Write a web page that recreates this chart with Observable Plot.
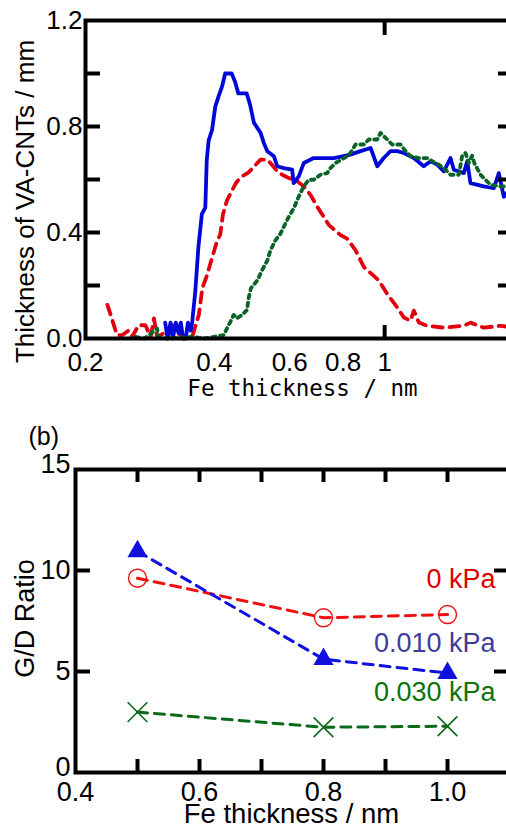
<!DOCTYPE html>
<html><head><meta charset="utf-8">
<script src="https://cdn.jsdelivr.net/npm/d3@7"></script>
<script src="https://cdn.jsdelivr.net/npm/@observablehq/plot@0.6"></script>
<style>
body{margin:0;background:#fff;}
#wrap{position:relative;width:506px;height:824px;overflow:hidden;background:#fff;}
#top,#bot{position:absolute;left:0;width:520px;}
#top{top:0}
#bot{top:400px}
</style></head><body><div id="wrap"><div id="top"></div><div id="bot"></div></div>
<script>
// ---------- Panel (a) data ----------
const blueX = [0.307,0.311,0.316,0.320,0.325,0.330,0.334,0.338,0.343,0.347,0.352,0.355,0.361,0.367,0.374,0.381,0.384,0.388,0.395,0.402,0.409,0.417,0.424,0.439,0.447,0.455,0.476,0.485,0.495,0.513,0.522,0.532,0.551,0.561,0.581,0.608,0.613,0.630,0.647,0.683,0.761,0.832,0.878,0.927,0.961,0.995,1.032,1.070,1.109,1.170,1.234,1.280,1.327,1.375,1.425,1.451,1.531,1.559,1.587,1.705,1.799,1.848,1.898,1.93];
const blueY = [0.06,0.0,0.06,0.0,0.06,0.02,0.06,0.0,0.0,0.06,0.03,0.06,0.177,0.342,0.469,0.494,0.672,0.748,0.786,0.875,0.913,0.951,1.0,1.0,0.97,0.925,0.925,0.881,0.814,0.776,0.738,0.707,0.688,0.65,0.643,0.637,0.586,0.612,0.662,0.681,0.681,0.694,0.707,0.719,0.65,0.681,0.707,0.707,0.700,0.681,0.65,0.669,0.656,0.631,0.681,0.637,0.624,0.669,0.586,0.574,0.567,0.624,0.535,0.55];
const redX = [0.225,0.229,0.233,0.237,0.244,0.252,0.257,0.266,0.276,0.284,0.289,0.294,0.305,0.319,0.337,0.355,0.368,0.375,0.385,0.395,0.406,0.413,0.419,0.428,0.440,0.448,0.460,0.481,0.513,0.532,0.541,0.561,0.576,0.597,0.619,0.647,0.671,0.696,0.741,0.789,0.817,0.855,0.894,0.969,1.014,1.070,1.109,1.149,1.170,1.202,1.257,1.375,1.531,1.587,1.705,1.865,1.93];
const redY = [0.127,0.089,0.05,0.013,0.013,0.03,0.006,0.05,0.05,0.006,0.076,0.006,0.02,0.05,0.0,0.006,0.089,0.19,0.241,0.304,0.368,0.393,0.469,0.52,0.558,0.583,0.608,0.627,0.675,0.675,0.662,0.631,0.618,0.605,0.599,0.574,0.542,0.497,0.428,0.39,0.377,0.333,0.27,0.219,0.168,0.117,0.079,0.067,0.105,0.06,0.048,0.041,0.048,0.06,0.041,0.048,0.045];
const greenX = [0.262,0.275,0.294,0.296,0.31,0.358,0.38,0.421,0.428,0.436,0.444,0.452,0.464,0.477,0.481,0.487,0.504,0.517,0.532,0.541,0.556,0.571,0.581,0.597,0.613,0.630,0.647,0.665,0.683,0.708,0.734,0.747,0.768,0.796,0.817,0.832,0.855,0.894,0.918,0.961,0.978,1.014,1.041,1.089,1.119,1.149,1.202,1.257,1.291,1.339,1.387,1.425,1.490,1.517,1.545,1.572,1.601,1.62,1.675,1.720,1.767,1.865,1.93];
const greenY = [0.006,0.0,0.038,0.006,0.0,0.006,0.0,0.013,0.038,0.063,0.089,0.076,0.089,0.108,0.152,0.19,0.219,0.257,0.295,0.333,0.371,0.396,0.421,0.459,0.491,0.536,0.574,0.599,0.599,0.618,0.624,0.643,0.662,0.677,0.688,0.70,0.732,0.732,0.751,0.751,0.776,0.751,0.732,0.732,0.707,0.688,0.681,0.681,0.669,0.656,0.637,0.618,0.618,0.688,0.70,0.662,0.69,0.662,0.618,0.599,0.58,0.574,0.574];
const topYTickLabels = [0, 0.4, 0.8, 1.2];
const topYTicks = [0.2, 0.4, 0.6, 0.8, 1.0];
const topXTickLabels = [0.2, 0.4, 0.6, 0.8, 1];
const topXTicks = [1];

// ---------- Panel (b) data ----------
const feThickness = [0.5, 0.8, 1.0];
const gd0 = [9.62, 7.66, 7.82];
const gd010 = [10.95, 5.61, 4.92];
const gd030 = [2.99, 2.24, 2.29];
const seriesNames = ["0 kPa", "0.010 kPa", "0.030 kPa"];
const botXTickLabels = [0.4, 0.6, 0.8, 1.0];
const botXTicks = [0.5, 0.6, 0.7, 0.8, 0.9, 1.0];
const botYTickLabelsMid = [5, 10];
const botYTickLabelsEnd = [0, 15];
const botYTicks = [5, 10];

const SANS = "'Liberation Sans', Arial, Helvetica, sans-serif";
const toPts = (xs, ys) => xs.map((x, i) => ({x, y: ys[i]}));

// ---------- Panel (a) ----------
{
  const W = 520, H = 400, mL = 85, mR = 7, mT = 20, mB = 62;
  const fw = W - mL - mR, fh = H - mT - mB;
  const chart = Plot.plot({
    width: W, height: H,
    marginLeft: mL, marginRight: mR, marginTop: mT, marginBottom: mB,
    style: {fontFamily: SANS, fontSize: "26px", background: "white", maxWidth: "none", overflow: "visible"},
    x: {type: "log", domain: [0.2, 2.0], axis: null},
    y: {domain: [0, 1.2], axis: null},
    marks: [
      Plot.line(toPts(redX, redY), {x: "x", y: "y", stroke: "#e00010", strokeWidth: 3.8, strokeDasharray: "10,7"}),
      Plot.line(toPts(blueX, blueY), {x: "x", y: "y", stroke: "#0008d8", strokeWidth: 3.8}),
      Plot.line(toPts(greenX, greenY), {x: "x", y: "y", stroke: "#0a6428", strokeWidth: 3.8, strokeDasharray: "3.5,4.5"}),
      Plot.frame({strokeWidth: 4}),
      Plot.tickY(topYTicks, {y: d => d, insetRight: fw - 15, strokeWidth: 4}),
      Plot.tickY(topYTicks, {y: d => d, insetLeft: fw - 15, strokeWidth: 4}),
      Plot.tickX(topXTicks, {x: d => d, insetBottom: fh - 15, strokeWidth: 4}),
      Plot.tickX(topXTicks, {x: d => d, insetTop: fh - 13, strokeWidth: 4}),
      Plot.text(topYTickLabels, {y: d => d, text: d => d.toFixed(1), frameAnchor: "left", textAnchor: "end", dx: -3, lineAnchor: "middle", fontSize: 26}),
      Plot.text(topXTickLabels, {x: d => d, text: d => String(d), frameAnchor: "bottom", textAnchor: "middle", dy: 24.5, lineAnchor: "middle", fontSize: 26}),
      Plot.text(["Thickness of VA-CNTs / mm"], {frameAnchor: "left", textAnchor: "middle", rotate: -90, dx: -52, dy: 22, lineAnchor: "bottom", fontSize: 26}),
      Plot.text(["Fe thickness / nm"], {frameAnchor: "bottom", textAnchor: "middle", dx: 3, dy: 57, lineAnchor: "bottom", fontFamily: "'DejaVu Sans Mono', monospace", fontSize: 22.5})
    ]
  });
  document.getElementById("top").appendChild(chart);
}

// ---------- Panel (b) ----------
{
  const W = 520, H = 424, mL = 75, mR = 11, mT = 69, mB = 52;
  const fw = W - mL - mR, fh = H - mT - mB;
  const series = [
    {name: seriesNames[0], ys: gd0, line: "#ee1111", label: "#dd0000"},
    {name: seriesNames[1], ys: gd010, line: "#1111dd", label: "#3d3d9d"},
    {name: seriesNames[2], ys: gd030, line: "#0a6a1a", label: "#0b730b"}
  ];
  const marks = [];
  for (const s of series) {
    marks.push(Plot.line(toPts(feThickness, s.ys), {x: "x", y: "y", stroke: s.line, strokeWidth: 3, strokeDasharray: "10,7"}));
  }
  const p0 = toPts(feThickness, gd0), p1 = toPts(feThickness, gd010), p2 = toPts(feThickness, gd030);
  marks.push(
    Plot.dot(p0, {x: "x", y: "y", r: 9, stroke: series[0].line, strokeWidth: 1.4, fill: "none"}),
    Plot.dot(p0, {x: "x", y: "y", r: 1.3, fill: series[0].line, stroke: "none"}),
    Plot.dot(p1, {x: "x", y: "y", r: 7.5, symbol: "triangle", fill: series[1].line, stroke: "none"}),
    Plot.dot(p2, {x: "x", y: "y", r: 9, symbol: "times", stroke: series[2].line, strokeWidth: 1.6})
  );
  const labelDy = [-35, -30, -34];
  series.forEach((s, i) => {
    marks.push(Plot.text([toPts(feThickness, s.ys)[2]], {x: "x", y: "y", text: () => s.name, textAnchor: "end", dx: 48, dy: labelDy[i], lineAnchor: "middle", fill: s.label, fontSize: 27}));
  });
  marks.push(
    Plot.frame({strokeWidth: 4}),
    Plot.tickX(botXTicks, {x: d => d, insetBottom: fh - 13, strokeWidth: 4}),
    Plot.tickX(botXTicks, {x: d => d, insetTop: fh - 13, strokeWidth: 4}),
    Plot.tickY(botYTicks, {y: d => d, insetRight: fw - 15, strokeWidth: 4}),
    Plot.tickY(botYTicks, {y: d => d, insetLeft: fw - 15, strokeWidth: 4}),
    Plot.text(botYTickLabelsMid, {y: d => d, text: d => String(d), frameAnchor: "left", textAnchor: "end", dx: -5, lineAnchor: "middle", fontSize: 27}),
    Plot.text(botYTickLabelsEnd, {y: d => d, text: d => String(d), frameAnchor: "left", textAnchor: "end", dx: -5, dy: -5, lineAnchor: "middle", fontSize: 27}),
    Plot.text(botXTickLabels, {x: d => d, text: d => d.toFixed(1), frameAnchor: "bottom", textAnchor: "middle", dy: 20, lineAnchor: "middle", fontSize: 27}),
    Plot.text(["(b)"], {frameAnchor: "top-left", textAnchor: "start", dx: -47, dy: -25, lineAnchor: "bottom", fontSize: 25}),
    Plot.text(["G/D Ratio"], {frameAnchor: "left", textAnchor: "middle", rotate: -90, dx: -42, dy: -2.5, lineAnchor: "bottom", fontSize: 27}),
    Plot.text(["Fe thickness / nm"], {frameAnchor: "bottom", textAnchor: "middle", dx: -1, dy: 50.5, lineAnchor: "bottom", fontSize: 27.5})
  );
  const chart = Plot.plot({
    width: W, height: H,
    marginLeft: mL, marginRight: mR, marginTop: mT, marginBottom: mB,
    style: {fontFamily: SANS, fontSize: "26px", background: "white", maxWidth: "none", overflow: "visible"},
    x: {domain: [0.4, 1.1], axis: null},
    y: {domain: [0, 15], axis: null},
    marks
  });
  document.getElementById("bot").appendChild(chart);
}
</script></body></html>
